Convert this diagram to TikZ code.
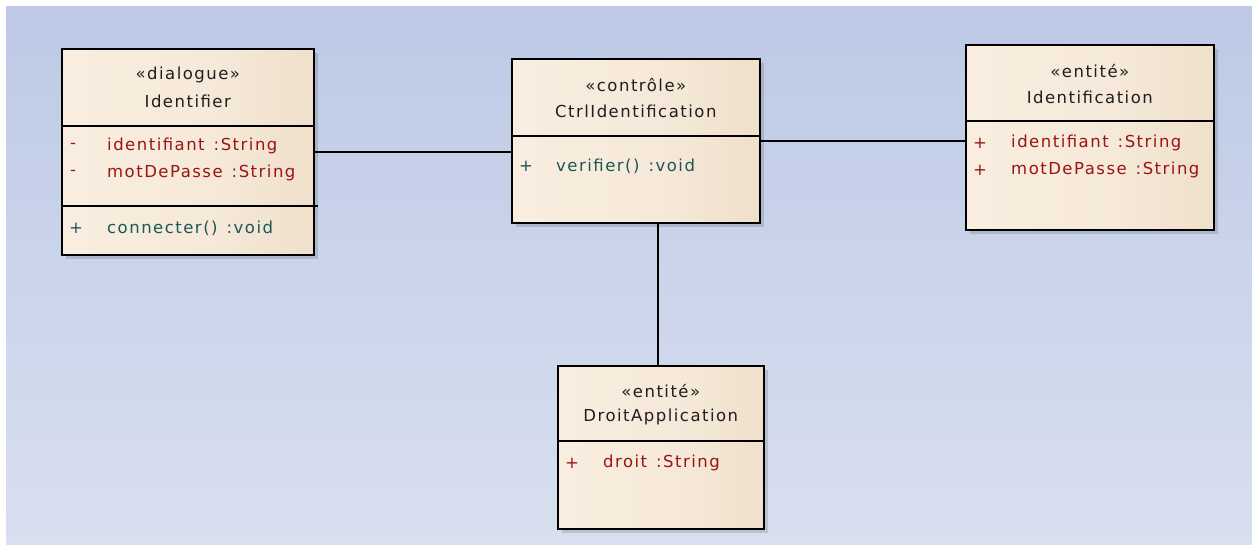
\documentclass[tikz,border=0pt]{standalone}
\usepackage{fontspec}
\setmainfont{DejaVu Sans}[LetterSpace=9]
\usetikzlibrary{shadows,calc}
\definecolor{bgtop}{HTML}{BDC9E5}
\definecolor{bgbot}{HTML}{D8DFEF}
\definecolor{boxL}{HTML}{FBF1E5}
\definecolor{boxM}{HTML}{F6E9D9}
\definecolor{boxR}{HTML}{E7D4BA}
\definecolor{attrred}{HTML}{9A1414}
\definecolor{opteal}{HTML}{1A5858}
\pgfdeclarehorizontalshading{boxshade}{100bp}{color(0bp)=(boxL); color(55bp)=(boxM); color(100bp)=(boxR)}
\tikzset{
  umlbox/.style={draw=black, line width=1.6pt, shading=boxshade, inner sep=0pt, anchor=north west,
    drop shadow={shadow xshift=4pt, shadow yshift=-4pt, fill=black, opacity=0.13}},
  sepline/.style={draw=black, line width=1.5pt},
  conn/.style={draw=black, line width=1.4pt},
  hdr/.style={inner sep=0pt, anchor=center, text=black!88},
  attr/.style={inner sep=0pt, anchor=west, text=attrred},
  oper/.style={inner sep=0pt, anchor=west, text=opteal},
}
\newcommand{\tsep}{\hspace{9pt}}
\begin{document}
\begin{tikzpicture}[x=1pt,y=-1pt,font=\fontsize{16.5}{19}\selectfont]
\useasboundingbox (0,0) rectangle (1252,544);
\shade[top color=bgtop, bottom color=bgbot] (6,6) rectangle (1252,544);

% Identifier
\node[umlbox, minimum width=252pt, minimum height=206pt] (idf) at (61,48) {};
\draw[sepline] (idf.west |- 0,126) -- (idf.east |- 0,126);
\draw[sepline] (idf.west |- 0,206) -- ($(idf.east |- 0,206)+(3,0)$);
\node[hdr] (idfst) at (idf.north |- 0,75) {«dialogue»};
\node[hdr] (idfnm) at (idf.north |- 0,101) {Identifier};
\node[attr] (idfv1) at (70,146) {-};
\node[attr] (idfa1) at (107,146) {identifiant\tsep:String};
\node[attr] (idfv2) at (70,173) {-};
\node[attr] (idfa2) at (107,173) {motDePasse\tsep:String};
\node[oper] (idfv3) at (69,228) {+};
\node[oper] (idfo1) at (107,228) {connecter()\tsep:void};

% CtrlIdentification
\node[umlbox, minimum width=248pt, minimum height=164pt] (ctrl) at (511,58) {};
\draw[sepline] (ctrl.west |- 0,136) -- (ctrl.east |- 0,136);
\node[hdr] (ctrlst) at (ctrl.north |- 0,85) {«contrôle»};
\node[hdr] (ctrlnm) at (ctrl.north |- 0,111) {CtrlIdentification};
\node[oper] (ctrlv1) at (519,166) {+};
\node[oper] (ctrlo1) at (556,166) {verifier()\tsep:void};

% Identification
\node[umlbox, minimum width=248pt, minimum height=185pt] (ide) at (965,44) {};
\draw[sepline] (ide.west |- 0,121) -- (ide.east |- 0,121);
\node[hdr] (idest) at (ide.north |- 0,71) {«entité»};
\node[hdr] (idenm) at (ide.north |- 0,97) {Identification};
\node[attr] (idev1) at (973,143) {+};
\node[attr] (idea1) at (1011,143) {identifiant\tsep:String};
\node[attr] (idev2) at (973,170) {+};
\node[attr] (idea2) at (1011,170) {motDePasse\tsep:String};

% DroitApplication
\node[umlbox, minimum width=206pt, minimum height=163pt] (dro) at (557,365) {};
\draw[sepline] (dro.west |- 0,441) -- (dro.east |- 0,441);
\node[hdr] (drost) at (dro.north |- 0,391) {«entité»};
\node[hdr] (dronm) at (dro.north |- 0,417) {DroitApplication};
\node[attr] (drov1) at (565,463) {+};
\node[attr] (droa1) at (603,463) {droit\tsep:String};

% connectors
\draw[conn] (idf.east |- 0,152) -- (ctrl.west |- 0,152);
\draw[conn] (ctrl.east |- 0,141) -- (ide.west |- 0,141);
\draw[conn] (ctrl.south -| 658,0) -- (dro.north -| 658,0);
\end{tikzpicture}
\end{document}
